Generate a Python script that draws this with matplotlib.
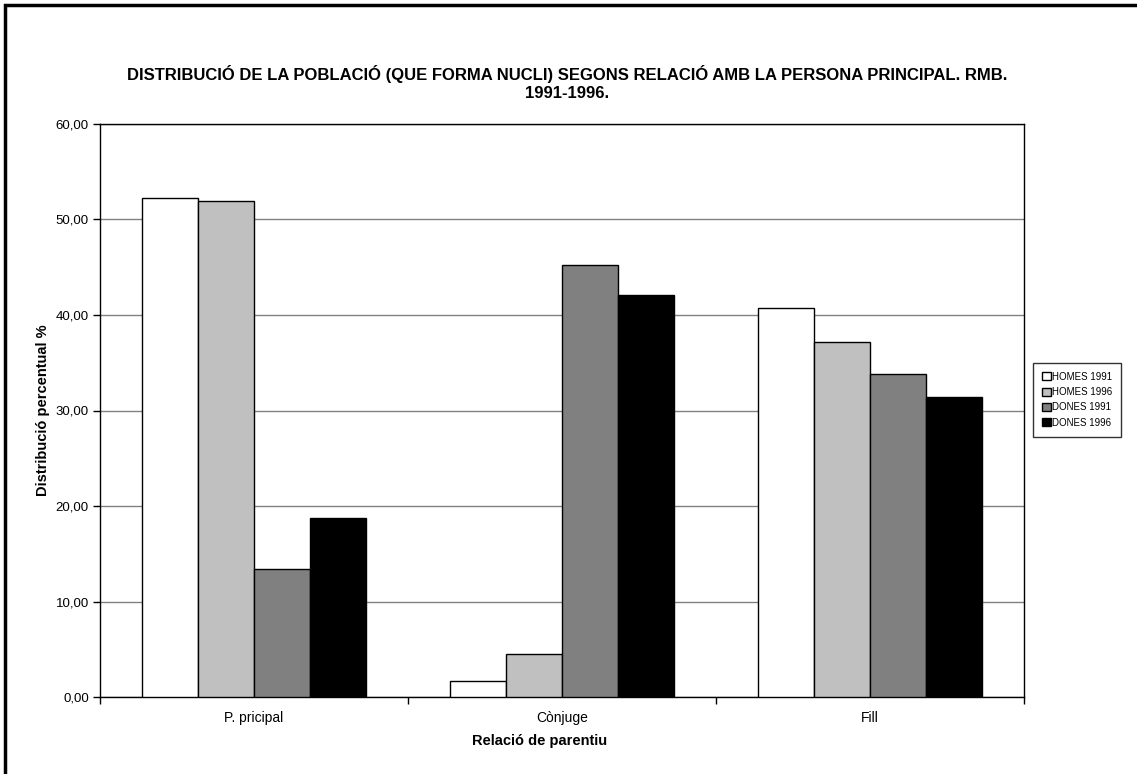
import matplotlib
matplotlib.use("Agg")
import matplotlib.pyplot as plt
import numpy as np
from matplotlib.patches import Rectangle

plt.rcParams['font.family'] = ['Liberation Sans', 'DejaVu Sans']

categories = ["P. pricipal", "Cònjuge", "Fill"]
series_names = ["HOMES 1991", "HOMES 1996", "DONES 1991", "DONES 1996"]
homes_1991 = [52.3, 1.7, 40.7]
homes_1996 = [51.9, 4.5, 37.2]
dones_1991 = [13.4, 45.2, 33.8]
dones_1996 = [18.7, 42.1, 31.4]
colors = ["#FFFFFF", "#C0C0C0", "#808080", "#000000"]
yticks = [0, 10, 20, 30, 40, 50, 60]

series = [homes_1991, homes_1996, dones_1991, dones_1996]

fig = plt.figure(figsize=(11.37, 7.74), dpi=100)
ax = fig.add_axes([100/1137, 1-697/774, 924/1137, (697-124)/774])

x = np.arange(len(categories))
w = 1/5.5
for i, (vals, name, c) in enumerate(zip(series, series_names, colors)):
    ax.bar(x + (i - 1.5) * w, vals, width=w, color=c, edgecolor="black",
           linewidth=1.0, label=name, zorder=3)

ax.set_xlim(-0.5, len(categories) - 0.5)
ax.set_ylim(0, 60)
ax.set_yticks(yticks)
ax.set_yticklabels([f"{v:.2f}".replace(".", ",") for v in yticks], fontsize=9.5)
ax.yaxis.grid(True, color="#808080", linewidth=1.0, zorder=0)
ax.set_xticks(x)
ax.set_xticklabels(categories, fontsize=10)
ax.tick_params(axis="x", length=0, pad=10)
ax.set_xticks(np.arange(len(categories) + 1) - 0.5, minor=True)
ax.tick_params(axis="x", which="minor", length=5, direction="out", width=1)
ax.tick_params(axis="y", length=5, direction="out", width=1, pad=3)
for s in ax.spines.values():
    s.set_linewidth(1.0)
    s.set_color("black")

ax.set_xlabel("Relació de parentiu", fontsize=10.5, fontweight="bold")
ax.xaxis.set_label_coords((540-100)/924, -(734-697)/573)
ax.set_ylabel("Distribució percentual %", fontsize=10.5, fontweight="bold", labelpad=4)

fig.text(567/1137, 1-83/774, "DISTRIBUCIÓ DE LA POBLACIÓ (QUE FORMA NUCLI) SEGONS RELACIÓ AMB LA PERSONA PRINCIPAL. RMB.\n1991-1996.",
         ha="center", va="center", fontsize=12, fontweight="bold", linespacing=1.2)

leg = ax.legend(loc="upper left", bbox_to_anchor=(1033/1137, 1-363/774),
                bbox_transform=fig.transFigure, fontsize=7, frameon=True,
                fancybox=False, edgecolor="black", handlelength=0.9,
                handleheight=0.9, handletextpad=0.2, borderpad=0.9,
                labelspacing=0.55, borderaxespad=0)
leg.get_frame().set_linewidth(1.0)

fig.patches.append(Rectangle((5/1137, -0.1), 1.2, 1-5/774+0.1, transform=fig.transFigure,
                             fill=False, edgecolor="black", linewidth=2.5))

fig.savefig("out.png", dpi=100, facecolor="white")
